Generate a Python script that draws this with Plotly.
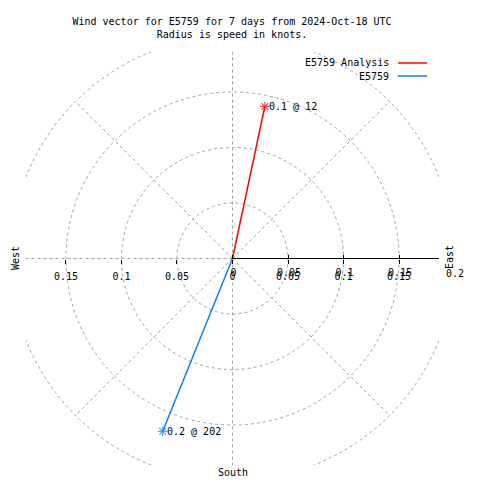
import math
import plotly.graph_objects as go

# ---- data ----
series_names = ["E5759 Analysis", "E5759"]
series_colors = ["#ff0000", "#0a80ff"]
wind_dir_deg = [12, 202]          # direction, degrees clockwise from north
wind_speed_kt = [0.14, 0.168]     # radius = speed in knots

x_tick_vals = [-0.15, -0.1, -0.05, 0, 0.05, 0.1, 0.15]
x_tick_text = ["0.15", "0.1", "0.05", "0", "0.05", "0.1", "0.15"]
r_tick_vals = [0, 0.05, 0.1, 0.15]
r_tick_text = ["0", "0.05", "0.1", "0.15"]
r_max_label = "0.2"
r_max = 0.2
grid_radii = [0.05, 0.1, 0.15, 0.2]
grid_angles = [0, 45, 90, 135, 180, 225, 270, 315]

title_lines = ["Wind vector for E5759 for 7 days from 2024-Oct-18 UTC",
               "Radius is speed in knots."]

# ---- layout constants (page body has an 8px margin) ----
OFF = 8
W = H = 480
# plot area on screen: x 26..439, y 52..465
ML, MT = 26 - OFF, 52 - OFF
MR, MB = W - (439 - OFF), H - (465 - OFF)
PW = W - ML - MR
PH = H - MT - MB
XMAX = 0.186
FONT = dict(family="DejaVu Sans Mono", size=10, color="black")
GRID = dict(color="#a0a0a0", width=1, dash="3px,3px")


def px_to_paper(px, py):
    """screen pixel -> paper fraction"""
    fx, fy = px - OFF, py - OFF
    return (fx - ML) / PW, (H - MB - fy) / PH


fig = go.Figure()

# vectors
for i, (name, col, d, s) in enumerate(zip(series_names, series_colors, wind_dir_deg, wind_speed_kt)):
    th = math.radians(d)
    vx, vy = s * math.sin(th), s * math.cos(th)
    fig.add_trace(go.Scatter(
        x=[0, vx], y=[0, vy], mode="lines+markers", name=name,
        xaxis="x" if i == 0 else "x2",
        line=dict(color=col, width=1.5),
        marker=dict(symbol=["circle", "asterisk-open"], size=[0, 8],
                    color=col, line=dict(color=col, width=1.2)),
        showlegend=False, hoverinfo="skip"))
    fig.add_annotation(x=vx, y=vy, xref="x", yref="y", text=f"{s:.1f} @ {d}",
                       showarrow=False, xanchor="left", yanchor="middle",
                       xshift=2, font=FONT)

shapes = []
# polar grid circles
for r in grid_radii:
    shapes.append(dict(type="circle", xref="x", yref="y", x0=-r, y0=-r, x1=r, y1=r,
                       line=GRID, layer="below"))
# radial grid lines
for a in grid_angles:
    t = math.radians(a)
    shapes.append(dict(type="line", xref="x", yref="y", x0=0, y0=0,
                       x1=r_max * math.sin(t), y1=r_max * math.cos(t),
                       line=GRID, layer="below"))
# r axis (solid black)
shapes.append(dict(type="line", xref="x", yref="y", x0=0, y0=0, x1=r_max, y1=0,
                   line=dict(color="black", width=1), layer="below"))

# legend (gnuplot style: text then sample line)
for i, (name, col) in enumerate(zip(series_names, series_colors)):
    py = 63 + 13 * i
    tx, ty = px_to_paper(391, py)
    l0, _ = px_to_paper(398, py)
    l1, _ = px_to_paper(427, py)
    fig.add_annotation(x=tx, y=ty, xref="paper", yref="paper", text=name,
                       showarrow=False, xanchor="right", yanchor="middle", font=FONT)
    shapes.append(dict(type="line", xref="paper", yref="paper", x0=l0, x1=l1, y0=ty, y1=ty,
                       line=dict(color=col, width=1.5)))

# compass labels
wx, wy = px_to_paper(15, 258)
fig.add_annotation(x=wx, y=wy, xref="paper", yref="paper", text="West", textangle=-90,
                   showarrow=False, xanchor="center", yanchor="middle", font=FONT)
ex, ey = px_to_paper(450, 257)
fig.add_annotation(x=ex, y=ey, xref="paper", yref="paper", text="East", textangle=-90,
                   showarrow=False, xanchor="center", yanchor="middle", font=FONT)
sx, sy = px_to_paper(233, 472)
fig.add_annotation(x=sx, y=sy, xref="paper", yref="paper", text="South",
                   showarrow=False, xanchor="center", yanchor="middle", font=FONT)
# r axis end label (outside plot range)
rx = (r_max + XMAX) / (2 * XMAX)
_, ry = px_to_paper(0, 273)
fig.add_annotation(x=rx, y=ry, xref="paper", yref="paper", text=r_max_label,
                   showarrow=False, xanchor="center", yanchor="middle", font=FONT)

fig.update_layout(
    width=W, height=H, margin=dict(l=ML, r=MR, t=MT, b=MB),
    paper_bgcolor="white", plot_bgcolor="white", showlegend=False,
    shapes=shapes,
    title=dict(text="<br>".join(title_lines), x=(232 - OFF) / W, xanchor="center",
               y=1 - 17 / H, yanchor="top", font=FONT),
    xaxis=dict(range=[-XMAX, XMAX], anchor="free", position=0.5,
               showgrid=False, zeroline=False, showline=False,
               tickvals=x_tick_vals, ticktext=x_tick_text,
               ticks="outside", ticklen=4, tickcolor="black", tickwidth=1,
               tickfont=FONT, ticklabelstandoff=4),
    xaxis2=dict(range=[-XMAX, XMAX], overlaying="x", anchor="free", position=0.5,
                showgrid=False, zeroline=False, showline=False,
                tickvals=r_tick_vals, ticktext=r_tick_text,
                ticks="inside", ticklen=4, tickcolor="black", tickwidth=1,
                tickfont=FONT, ticklabelstandoff=6, ticklabelshift=1),
    yaxis=dict(range=[-XMAX, XMAX], showgrid=False, zeroline=False, showline=False,
               showticklabels=False, ticks=""),
)

fig.write_html("out.html")
